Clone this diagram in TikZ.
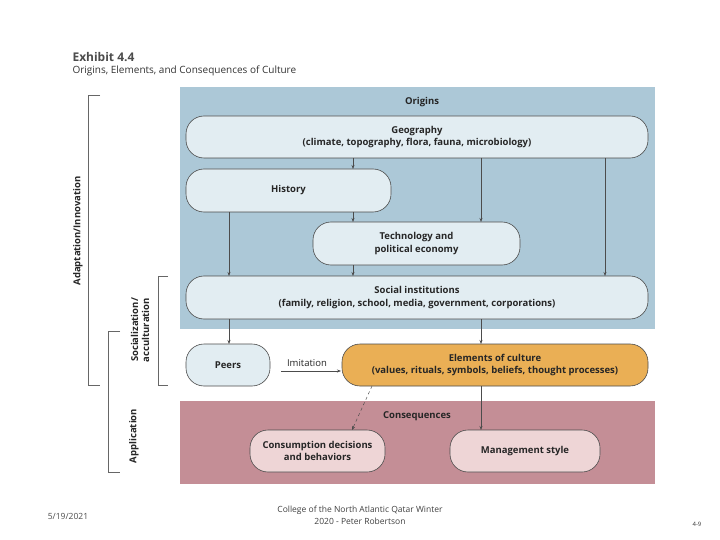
\documentclass[tikz,border=0pt]{standalone}
\usepackage{fontspec}
\setmainfont{Open Sans}
\usetikzlibrary{arrows.meta}
\definecolor{bluebg}{HTML}{ACC8D7}
\definecolor{bluenode}{HTML}{E2EDF2}
\definecolor{orangenode}{HTML}{EAAF55}
\definecolor{pinkbg}{HTML}{C48E96}
\definecolor{pinknode}{HTML}{EED5D6}
\begin{document}
\begin{tikzpicture}[x=1pt,y=-1pt,
  box/.style={draw=black!70,line width=0.6pt,rounded corners=18pt,align=center,font=\fontsize{9.5}{12.5}\selectfont\bfseries,inner sep=0pt,text=black!85},
  arr/.style={-{Stealth[length=4pt,width=3pt]},black!70,line width=0.5pt},
  brk/.style={black!60,line width=0.6pt},
  lab/.style={font=\fontsize{9.5}{11}\selectfont\bfseries,align=center,text=black!85}]
\useasboundingbox (0,0) rectangle (720,540);
\fill[white] (0,0) rectangle (720,540);
\fill[bluebg] (180,87) rectangle (655,329);
\fill[pinkbg] (180,401) rectangle (655,484);
\node[anchor=west,font=\fontsize{12}{14}\selectfont\bfseries,text=black!70] (t1) at (69,57) {Exhibit 4.4};
\node[anchor=west,font=\fontsize{10}{12}\selectfont,text=black!80] (t2) at (69,71) {Origins, Elements, and Consequences of Culture};
\node[lab] (orig) at (422,102) {Origins};
\node[lab] (cons) at (417,416) {Consequences};
\node[box,fill=bluenode,minimum width=462pt,minimum height=42pt] (geo) at (417,137) {Geography\\(climate, topography, flora, fauna, microbiology)};
\node[box,fill=bluenode,minimum width=205pt,minimum height=43pt] (hist) at (288.5,190.5) {History};
\node[box,fill=bluenode,minimum width=207pt,minimum height=43pt] (tech) at (416.5,243.5) {Technology and\\political economy};
\node[box,fill=bluenode,minimum width=462pt,minimum height=43pt] (soc) at (417,297.5) {Social institutions\\(family, religion, school, media, government, corporations)};
\node[box,fill=bluenode,minimum width=84pt,minimum height=42pt] (peers) at (228,365) {Peers};
\node[box,fill=orangenode,minimum width=306pt,minimum height=42pt] (elem) at (495,365) {Elements of culture\\(values, rituals, symbols, beliefs, thought processes)};
\node[box,fill=pinknode,minimum width=135pt,minimum height=42pt] (consu) at (317.5,451) {Consumption decisions\\and behaviors};
\node[box,fill=pinknode,minimum width=150pt,minimum height=42pt] (mgmt) at (525,451) {Management style};
\draw[arr] (353,158) -- (353,169);
\draw[arr] (353,212) -- (353,222);
\draw[arr] (481,158) -- (481,222);
\draw[arr] (605,158) -- (605,276);
\draw[arr] (229,212) -- (229,276);
\draw[arr] (353,265) -- (353,276);
\draw[arr] (229,319) -- (229,344);
\draw[arr] (481,319) -- (481,344);
\draw[arr] (481,386) -- (481,430);
\draw[arr,dashed] (372,386) -- (352,430);
\coordinate (ia) at (281,371);
\coordinate (ib) at (341,371);
\draw[arr] (ia) -- (ib);
\node[font=\fontsize{9.5}{11}\selectfont,text=black!85] (imit) at (307,363) {Imitation};
\draw[brk] (100,95) -- (88,95) -- (88,385) -- (100,385);
\node[lab,rotate=90] (ad) at (78,231) {Adaptation/Innovation};
\draw[brk] (168,276) -- (158,276) -- (158,385) -- (168,385);
\node[lab,rotate=90] (soca) at (140,330) {Socialization/\\acculturation};
\draw[brk] (120,331) -- (108,331) -- (108,472) -- (120,472);
\node[lab,rotate=90] (app) at (134,436) {Application};
\node[font=\fontsize{8.5}{10}\selectfont,text=black!70] (date) at (68,516) {5/19/2021};
\node[font=\fontsize{8.5}{12}\selectfont,align=center,text=black!75] (foot) at (360,515) {College of the North Atlantic Qatar Winter\\2020 - Peter Robertson};
\node[font=\fontsize{6}{7}\selectfont,text=black!80] (pg) at (697,524) {4-9};
\end{tikzpicture}
\end{document}
